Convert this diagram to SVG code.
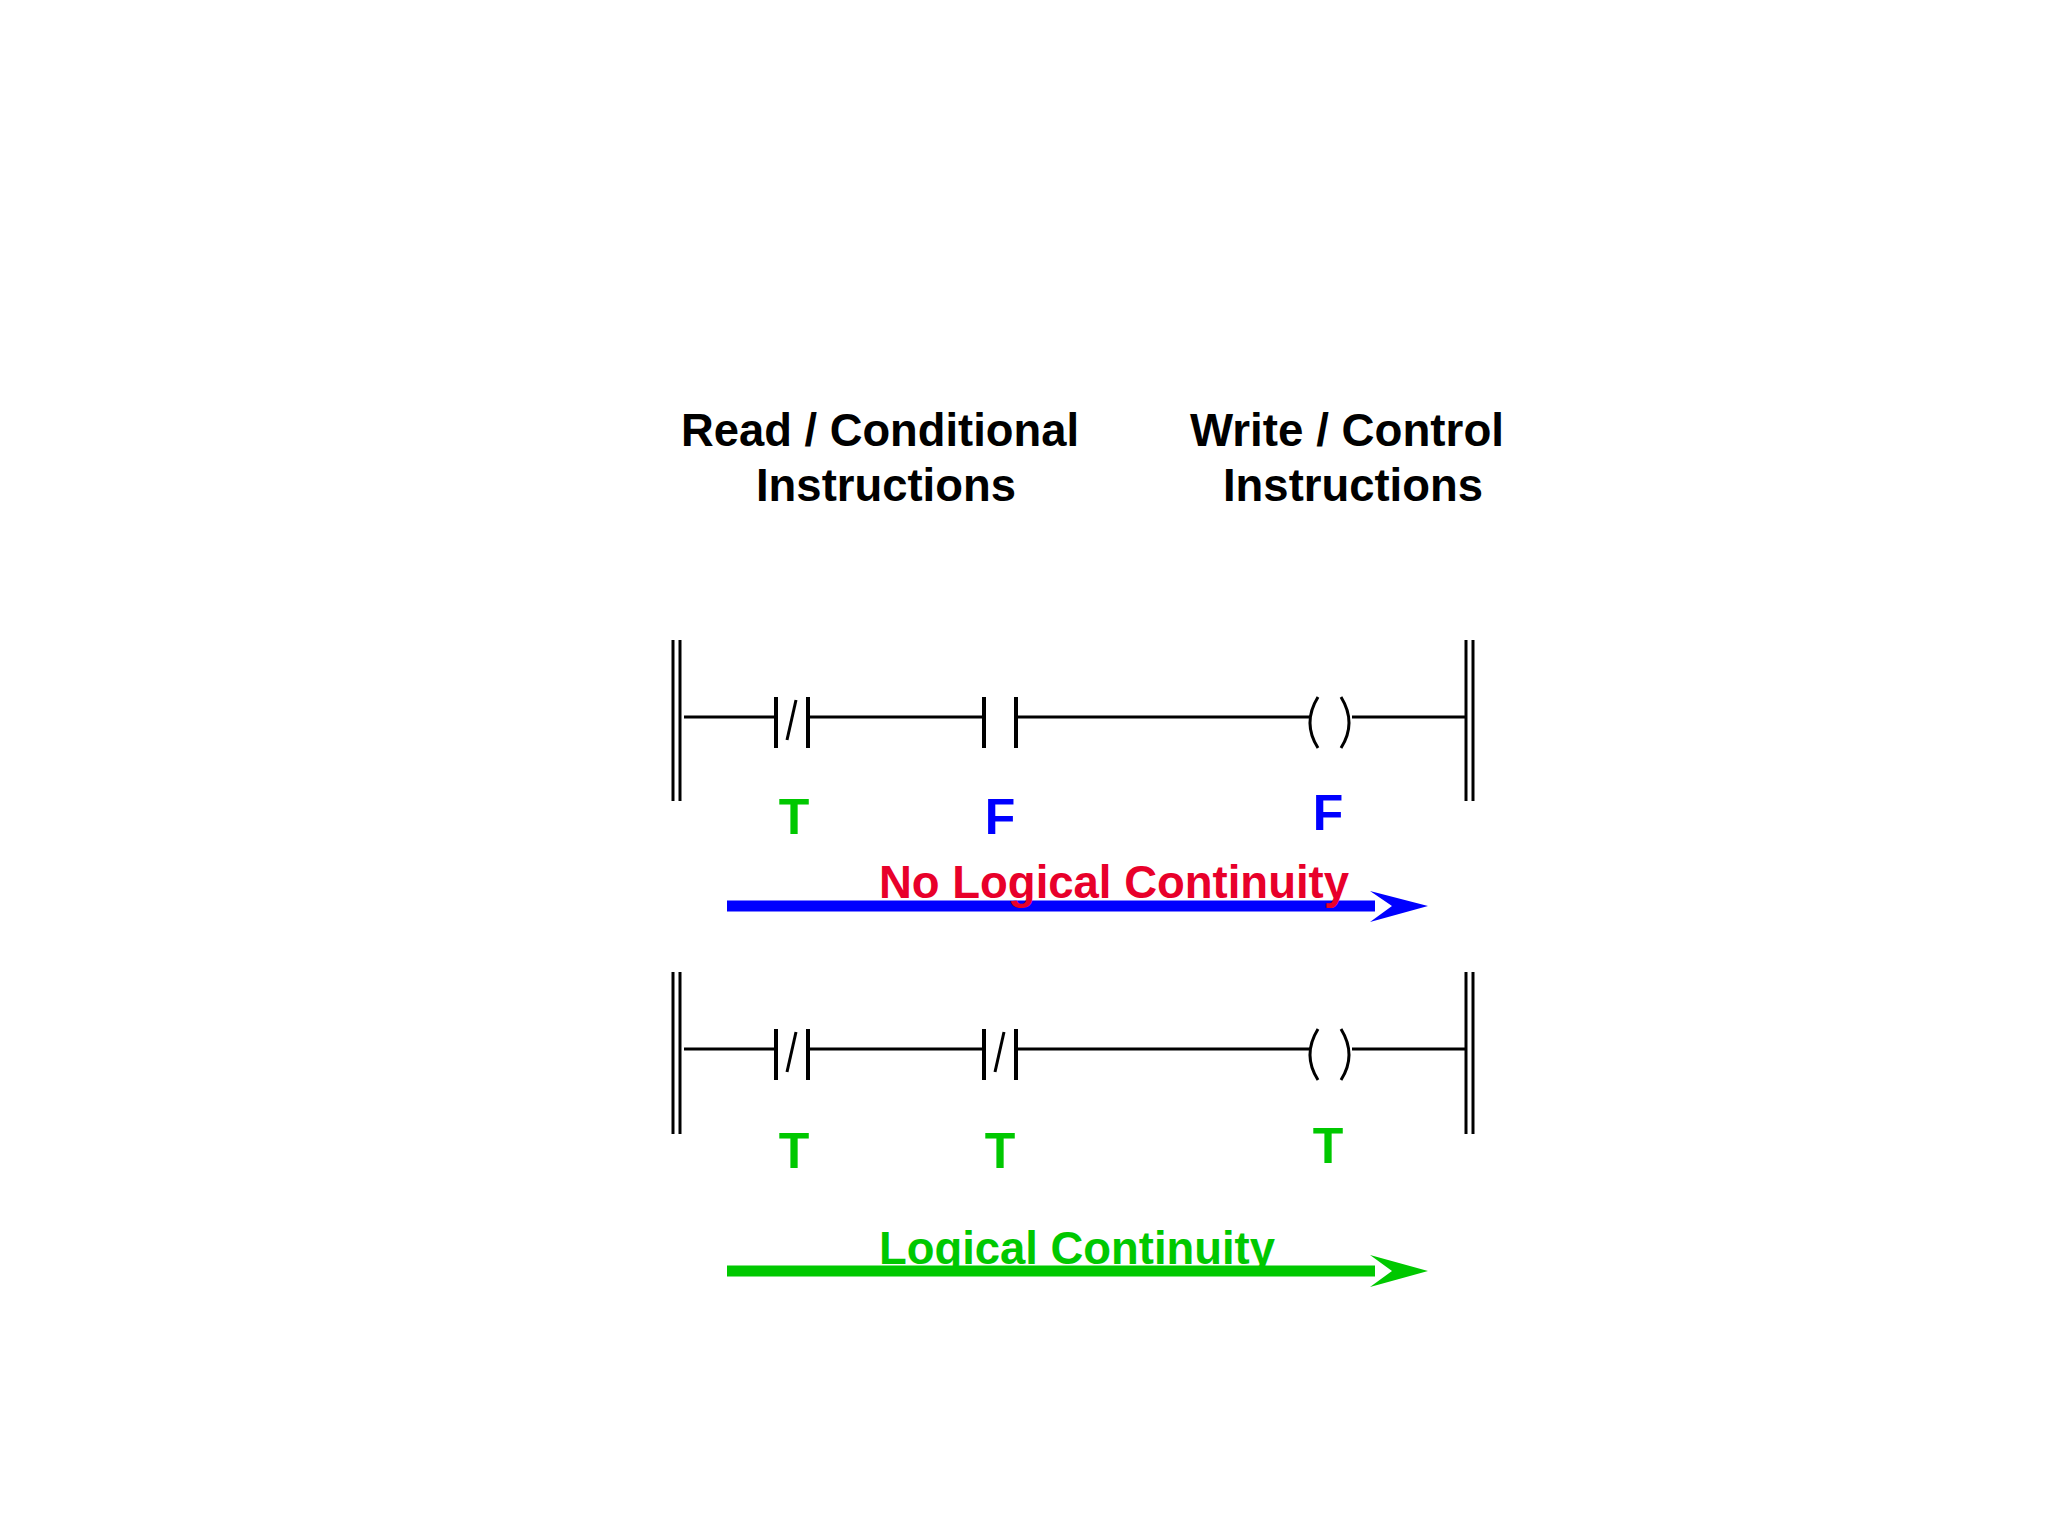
<svg xmlns="http://www.w3.org/2000/svg" width="2048" height="1536" viewBox="0 0 2048 1536">
<style>
.w{stroke:#000;stroke-width:3;fill:none}
.c{stroke:#000;stroke-width:4;fill:none}
.t{font-family:"Liberation Sans Narrow","Liberation Sans",Arial,sans-serif;font-weight:bold}
.h{font-size:46px;fill:#000}
.l{font-size:50px}
.g{fill:#00c800}
.b{fill:#0000ff}
</style>
<defs>
<g id="nc"><line class="c" x1="0" y1="-20" x2="0" y2="31"/><line class="c" x1="32" y1="-20" x2="32" y2="31"/><line class="w" x1="20" y1="-17" x2="11" y2="23"/></g>
<g id="no"><line class="c" x1="0" y1="-20" x2="0" y2="31"/><line class="c" x1="32" y1="-20" x2="32" y2="31"/></g>
<g id="coil"><path class="w" d="M1318,-20 Q1302,6 1318,31"/><path class="w" d="M1341,-20 Q1357,6 1341,31"/></g>
</defs>
<rect width="2048" height="1536" fill="#fff"/>
<g id="titles">
<text class="t h" x="681" y="446" textLength="398" lengthAdjust="spacingAndGlyphs">Read / Conditional</text>
<text class="t h" x="756" y="501" textLength="260" lengthAdjust="spacingAndGlyphs">Instructions</text>
<text class="t h" x="1190" y="446" textLength="314" lengthAdjust="spacingAndGlyphs">Write / Control</text>
<text class="t h" x="1223" y="501" textLength="260" lengthAdjust="spacingAndGlyphs">Instructions</text>
</g>
<g id="rung1">
<line class="w" x1="673" y1="640" x2="673" y2="801"/><line class="w" x1="680" y1="640" x2="680" y2="801"/>
<line class="w" x1="1466" y1="640" x2="1466" y2="801"/><line class="w" x1="1473" y1="640" x2="1473" y2="801"/>
<line class="w" x1="684" y1="717" x2="776" y2="717"/>
<use href="#nc" x="776" y="717"/>
<line class="w" x1="808" y1="717" x2="984" y2="717"/>
<use href="#no" x="984" y="717"/>
<line class="w" x1="1016" y1="717" x2="1310" y2="717"/>
<use href="#coil" y="717"/>
<line class="w" x1="1352" y1="717" x2="1465" y2="717"/>
<text class="t l g" x="794" y="834" text-anchor="middle">T</text>
<text class="t l b" x="1000" y="834" text-anchor="middle">F</text>
<text class="t l b" x="1328" y="830" text-anchor="middle">F</text>
</g>
<g id="arrow1">
<line x1="727" y1="906" x2="1375" y2="906" stroke="#0000ff" stroke-width="11"/>
<polygon points="1370,891 1428,906 1370,922 1392,906" fill="#0000ff"/>
<text class="t" x="879" y="898" font-size="46" fill="#e8002a" textLength="470" lengthAdjust="spacingAndGlyphs">No Logical Continuity</text>
</g>
<g id="rung2">
<line class="w" x1="673" y1="972" x2="673" y2="1134"/><line class="w" x1="680" y1="972" x2="680" y2="1134"/>
<line class="w" x1="1466" y1="972" x2="1466" y2="1134"/><line class="w" x1="1473" y1="972" x2="1473" y2="1134"/>
<line class="w" x1="684" y1="1049" x2="776" y2="1049"/>
<use href="#nc" x="776" y="1049"/>
<line class="w" x1="808" y1="1049" x2="984" y2="1049"/>
<use href="#nc" x="984" y="1049"/>
<line class="w" x1="1016" y1="1049" x2="1310" y2="1049"/>
<use href="#coil" y="1049"/>
<line class="w" x1="1352" y1="1049" x2="1465" y2="1049"/>
<text class="t l g" x="794" y="1168" text-anchor="middle">T</text>
<text class="t l g" x="1000" y="1168" text-anchor="middle">T</text>
<text class="t l g" x="1328" y="1163" text-anchor="middle">T</text>
</g>
<g id="arrow2">
<line x1="727" y1="1271" x2="1375" y2="1271" stroke="#00c800" stroke-width="11"/>
<polygon points="1370,1255 1428,1271 1370,1287 1392,1271" fill="#00c800"/>
<text class="t" x="879" y="1264" font-size="46" fill="#00c800" textLength="396" lengthAdjust="spacingAndGlyphs">Logical Continuity</text>
</g>
</svg>
